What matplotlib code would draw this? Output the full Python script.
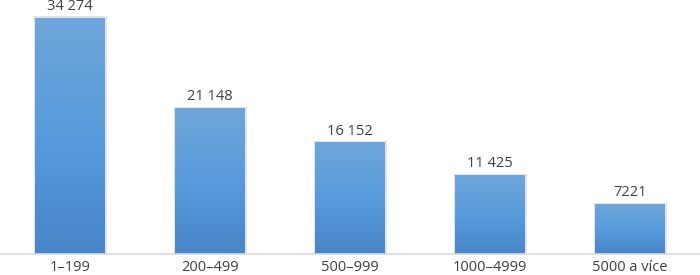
import matplotlib.pyplot as plt
from matplotlib.colors import LinearSegmentedColormap
import numpy as np

# kategorie a hodnoty
categories = ['1–199', '200–499', '500–999', '1000–4999', '5000 a více']
values = [34274, 21148, 16152, 11425, 7221]
labels = ['34 274', '21 148', '16 152', '11 425', '7221']

plt.rcParams['font.family'] = ['Open Sans', 'DejaVu Sans']

fig = plt.figure(figsize=(7, 2.75), dpi=100)
ax = fig.add_axes([0, 0.0764, 1, 0.9236])

x = np.arange(len(categories))
width = 0.5
# gradient shora dolu
cmap = LinearSegmentedColormap.from_list('bar', ['#4786c8', '#589bdc', '#6fa6da'])
grad = np.linspace(0, 1, 256).reshape(-1, 1)

bars = ax.bar(x, values, width, color='none', edgecolor='none', zorder=2)
for b in bars:
    x0, w, h = b.get_x(), b.get_width(), b.get_height()
    # jemny stin
    ax.bar(x0 + w / 2 + 0.004, h + 250, w + 0.025, bottom=0, color='#e4e4e4', zorder=1, linewidth=0)
    ax.imshow(grad, cmap=cmap, aspect='auto', origin='lower',
              extent=(x0, x0 + w, 0, h), zorder=3)

for xi, v, lab in zip(x, values, labels):
    ax.text(xi, v + 600, lab, ha='center', va='bottom', fontsize=10.5, color='#404040')

ax.set_xlim(-0.5, len(categories) - 0.5)
ax.set_ylim(0, 36887)
ax.set_xticks(x)
ax.set_xticklabels(categories, fontsize=10.5, color='#404040')
ax.tick_params(axis='x', length=0, pad=4)
ax.set_yticks([])
for s in ['top', 'right', 'left']:
    ax.spines[s].set_visible(False)
ax.spines['bottom'].set_color('#d9d9d9')
ax.spines['bottom'].set_linewidth(1.2)
ax.spines['bottom'].set_zorder(4)

fig.savefig('out.png', dpi=100)
